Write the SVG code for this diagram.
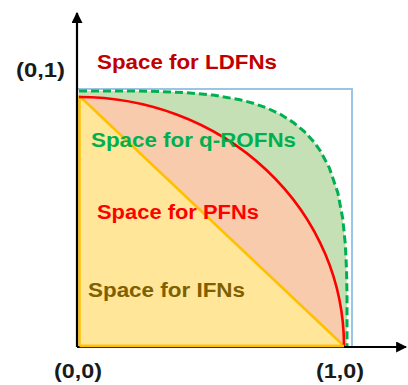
<svg xmlns="http://www.w3.org/2000/svg" width="408" height="385" viewBox="0 0 408 385">
<defs>
<style>
.lbl{font-family:"Liberation Sans",Arial,sans-serif;font-weight:bold;font-size:20px}
.coord{fill:#1a1a1a}
.axis{stroke:#000;stroke-width:2.2;fill:none}
</style>
<marker id="arr" viewBox="0 0 10 10" refX="9" refY="5" markerWidth="5" markerHeight="5" markerUnits="strokeWidth" orient="auto">
<path d="M0,0 L10,5 L0,10 z" fill="#000"/>
</marker>
</defs>
<rect width="408" height="385" fill="#fff"/>
<g id="regions">
<path id="qrofn-fill" d="M79,91 L132.6,91 L159.4,91.5 L186.2,92.6 L213,95.1 L239.8,99.7 L253.2,103.2 L266.6,107.9 L280,114.1 L293.4,122.5 L304.4,131.6 L313.9,142 L320.2,150.7 L329.2,167.5 L337.9,193 L342.7,218.5 L345.3,244 L346.5,269.5 L347,295 L347,320.5 L347,346 L79,346 Z" fill="#C5E0B4"/>
<path id="pfn-fill" d="M79,97 A265,249 0 0 1 344,346 L79,346 Z" fill="#F8CBAD"/>
<polygon id="ifn-fill" points="79.5,96 79.5,346 344,346" fill="#FFE699" stroke="#FFC000" stroke-width="2.5" stroke-linejoin="round"/>
</g>
<g id="bounds">
<polyline points="77,89 352,89 352,347" fill="none" stroke="#9DC3E6" stroke-width="2"/>
</g>
<g id="curves">
<path d="M79,97 A265,249 0 0 1 344,346" fill="none" stroke="#FF0000" stroke-width="2.6"/>
<polyline points="79,91 132.6,91 159.4,91.5 186.2,92.6 213,95.1 239.8,99.7 253.2,103.2 266.6,107.9 280,114.1 293.4,122.5 304.4,131.6 313.9,142 320.2,150.7 329.2,167.5 337.9,193 342.7,218.5 345.3,244 346.5,269.5 347,295 347,320.5 347,346" fill="none" stroke="#00B050" stroke-width="3" stroke-dasharray="8,4"/>
</g>
<g id="axes">
<line class="axis" x1="77" y1="347" x2="77" y2="13" marker-end="url(#arr)"/>
<line class="axis" x1="77" y1="347" x2="406" y2="347" marker-end="url(#arr)"/>
<line x1="79.5" y1="346" x2="344" y2="346" stroke="#FFC000" stroke-width="2.5"/>
</g>
<g id="labels">
<text class="lbl coord" x="16" y="77" textLength="49" lengthAdjust="spacingAndGlyphs">(0,1)</text>
<text class="lbl coord" x="54" y="378" textLength="48" lengthAdjust="spacingAndGlyphs">(0,0)</text>
<text class="lbl coord" x="316" y="378" textLength="48" lengthAdjust="spacingAndGlyphs">(1,0)</text>
<text class="lbl" x="97" y="69" fill="#C00000" textLength="180" lengthAdjust="spacingAndGlyphs">Space for LDFNs</text>
<text class="lbl" x="91" y="147" fill="#00B050" textLength="205" lengthAdjust="spacingAndGlyphs">Space for q-ROFNs</text>
<text class="lbl" x="97" y="219" fill="#FF0000" textLength="162" lengthAdjust="spacingAndGlyphs">Space for PFNs</text>
<text class="lbl" x="88" y="297" fill="#7F6000" textLength="157" lengthAdjust="spacingAndGlyphs">Space for IFNs</text>
</g>
</svg>
